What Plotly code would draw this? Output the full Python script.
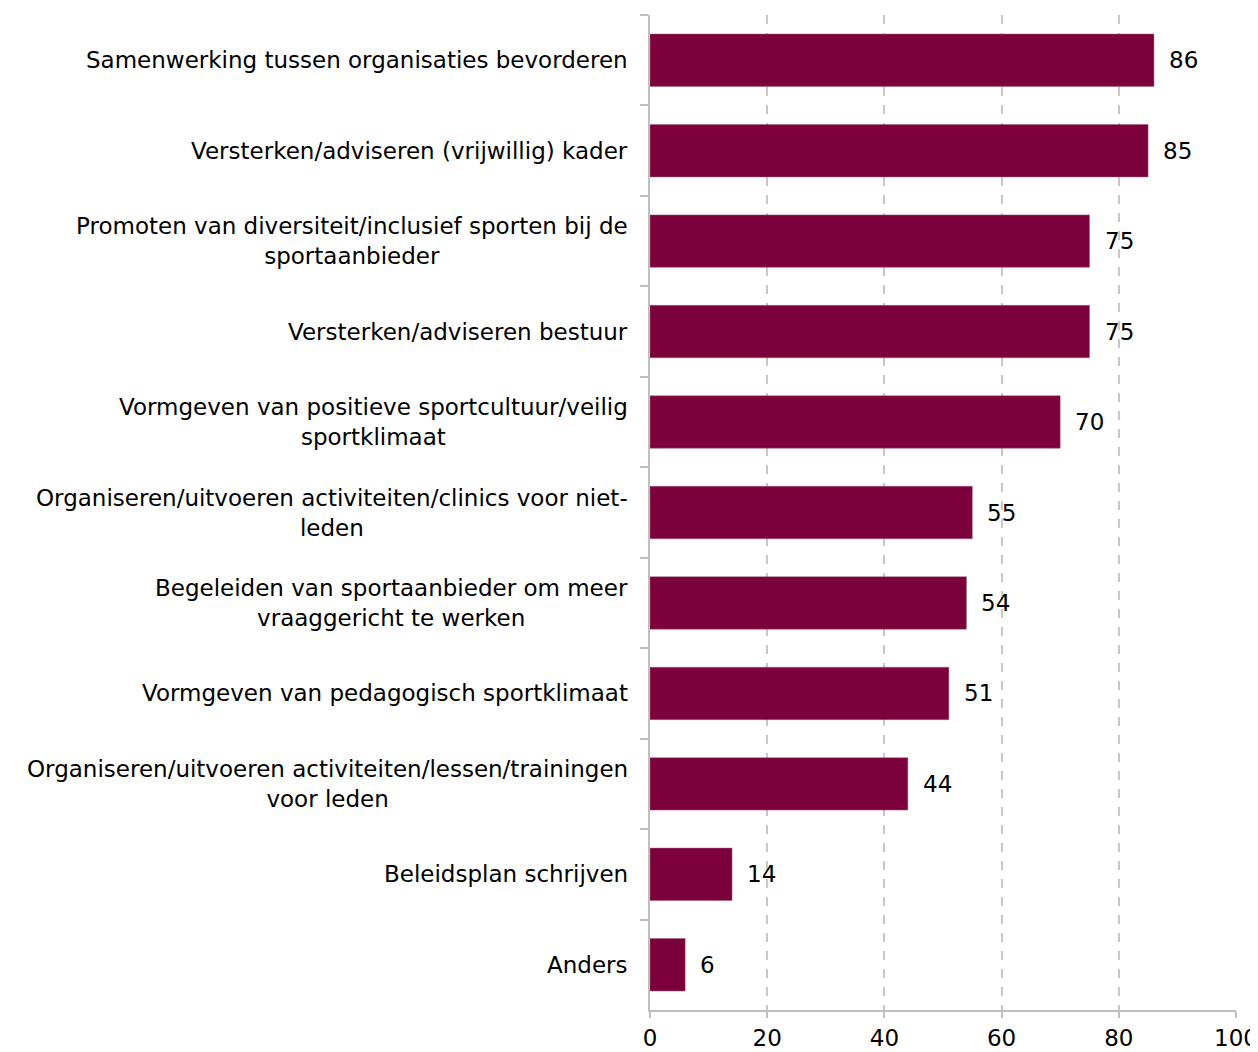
import plotly.graph_objects as go

categories = [
    "Samenwerking tussen organisaties bevorderen",
    "Versterken/adviseren (vrijwillig) kader",
    "Promoten van diversiteit/inclusief sporten bij de<br>sportaanbieder",
    "Versterken/adviseren bestuur",
    "Vormgeven van positieve sportcultuur/veilig<br>sportklimaat",
    "Organiseren/uitvoeren activiteiten/clinics voor niet-<br>leden",
    "Begeleiden van sportaanbieder om meer<br>vraaggericht te werken",
    "Vormgeven van pedagogisch sportklimaat",
    "Organiseren/uitvoeren activiteiten/lessen/trainingen<br>voor leden",
    "Beleidsplan schrijven",
    "Anders",
]
values = [86, 85, 75, 75, 70, 55, 54, 51, 44, 14, 6]
x_ticks = [0, 20, 40, 60, 80, 100]

FONT = "DejaVu Sans"
FS = 23
BAR_COLOR = "#7B003C"

fig = go.Figure()
fig.add_trace(go.Bar(
    x=values,
    y=categories,
    orientation="h",
    marker=dict(color=BAR_COLOR, line=dict(color="#A0607F", width=0.5)),
    width=0.58,
    hoverinfo="x+y",
))

annotations = []
for c, v in zip(categories, values):
    annotations.append(dict(
        x=v, y=c, xref="x", yref="y", text=str(v), showarrow=False,
        xanchor="left", yanchor="middle", xshift=13,
        font=dict(family=FONT, size=FS, color="#000000"),
    ))
    annotations.append(dict(
        x=0, y=c, xref="paper", yref="y", text=c, showarrow=False,
        xanchor="right", yanchor="middle", xshift=-20, align="center",
        font=dict(family=FONT, size=FS, color="#000000"),
    ))

fig.update_layout(
    width=1250, height=1044,
    margin=dict(l=642, r=22, t=7, b=42, autoexpand=False),
    paper_bgcolor="white", plot_bgcolor="white",
    showlegend=False,
    annotations=annotations,
    xaxis=dict(
        range=[0, 100], tickvals=x_ticks, ticktext=[str(t) for t in x_ticks],
        showgrid=True, gridcolor="#C8C8C8", griddash="dash", gridwidth=1.5,
        showline=True, linecolor="#BFBFBF", linewidth=2,
        ticks="outside", ticklen=6, tickcolor="#BFBFBF", tickwidth=2,
        tickfont=dict(family=FONT, size=FS, color="#000000"),
        zeroline=False, fixedrange=True, automargin=False,
    ),
    yaxis=dict(
        autorange="reversed", showticklabels=False,
        showline=True, linecolor="#BFBFBF", linewidth=2,
        ticks="outside", tickson="boundaries", ticklen=8,
        tickcolor="#BFBFBF", tickwidth=2,
        showgrid=False, zeroline=False, fixedrange=True, automargin=False,
    ),
)

fig.write_html("out.html")
